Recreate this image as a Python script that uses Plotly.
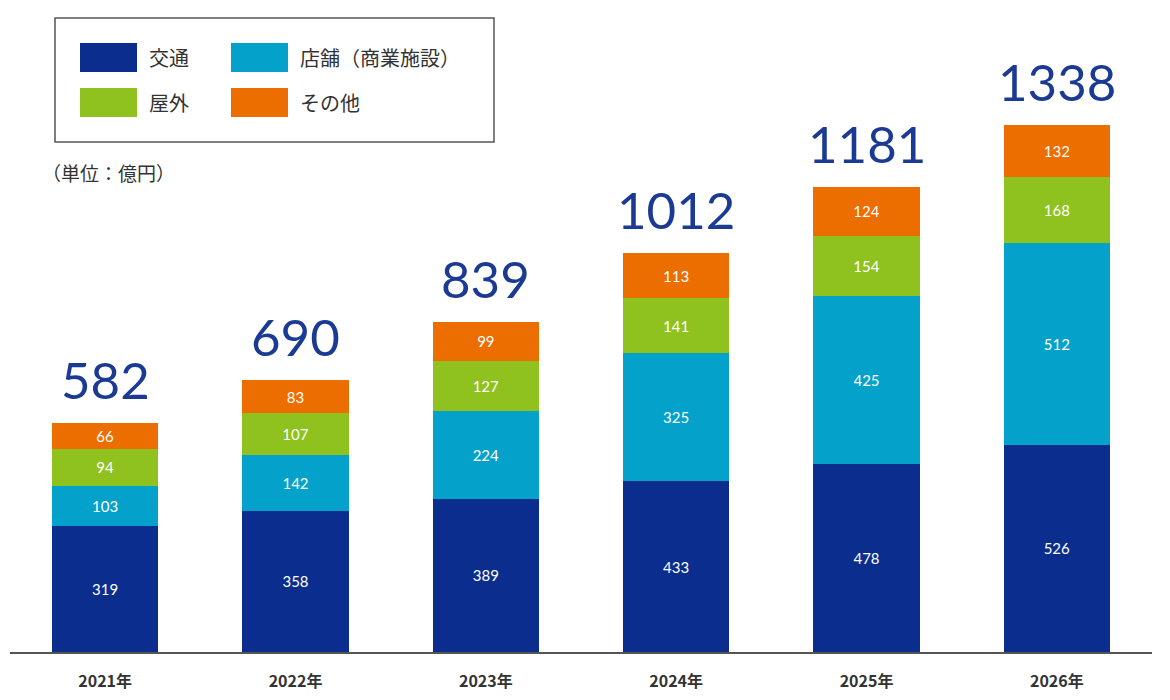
import plotly.graph_objects as go

years = ["2021年", "2022年", "2023年", "2024年", "2025年", "2026年"]
series_names = ["交通", "店舗（商業施設）", "屋外", "その他"]
kotsu = [319, 358, 389, 433, 478, 526]
tenpo = [103, 142, 224, 325, 425, 512]
okugai = [94, 107, 127, 141, 154, 168]
sonota = [66, 83, 99, 113, 124, 132]
totals = [582, 690, 839, 1012, 1181, 1338]
unit_text = "（単位：億円）"

colors = ["#0b2d8e", "#04a2cb", "#8fc21f", "#ec6d00"]
values = [kotsu, tenpo, okugai, sonota]

OFF = 8  # page body margin
W, H = 1170, 700
ML = 10 - OFF
MR = W - (1152 - OFF)
MT = 0
MB = H - (652 - OFF)
PW = W - ML - MR
PH = H - MT - MB

def px(x):
    return (x - OFF - ML) / PW

def py(y):
    return (H - MB - (y - OFF)) / PH

fig = go.Figure()
for name, vals, col in zip(series_names, values, colors):
    fig.add_trace(go.Bar(
        x=years, y=vals, name=name,
        marker=dict(color=col, line=dict(width=0)),
        text=[str(v) for v in vals],
        textposition="inside",
        insidetextanchor="middle",
        textangle=0,
        constraintext="none",
        textfont=dict(color="white", size=15, family="Lato"),
        showlegend=False,
    ))

for yr, tot in zip(years, totals):
    fig.add_annotation(
        x=yr, y=tot, text=str(tot), showarrow=False,
        yanchor="bottom", yshift=11,
        font=dict(size=51, color="#1b3a93", family="Lato"),
    )

# legend box
shapes = [dict(type="rect", xref="paper", yref="paper",
               x0=px(55), x1=px(494), y0=py(18), y1=py(142),
               line=dict(color="#555555", width=1.5), fillcolor="rgba(0,0,0,0)")]
leg_pos = [(80, 43), (231, 43), (80, 88), (231, 88)]
for (lx, ly), name, col in zip(leg_pos, series_names, colors):
    shapes.append(dict(type="rect", xref="paper", yref="paper",
                       x0=px(lx), x1=px(lx + 57), y0=py(ly), y1=py(ly + 29),
                       line=dict(width=0), fillcolor=col))
    fig.add_annotation(xref="paper", yref="paper", x=px(lx + 67), y=py(ly + 15),
                       xanchor="left", yanchor="middle", showarrow=False,
                       text=name, font=dict(size=20, color="#333333",
                                            family="Noto Sans CJK JP"))
fig.add_annotation(xref="paper", yref="paper", x=px(40), y=py(172),
                   xanchor="left", yanchor="middle", showarrow=False,
                   text=unit_text, font=dict(size=19, color="#333333",
                                             family="Noto Sans CJK JP"))

fig.update_layout(
    width=W, height=H,
    margin=dict(l=ML, r=MR, t=MT, b=MB),
    barmode="stack", bargap=0.44,
    plot_bgcolor="white", paper_bgcolor="white",
    shapes=shapes,
    showlegend=False,
    uniformtext=dict(mode=False),
)
fig.update_xaxes(showline=True, linecolor="#555555", linewidth=2,
                 ticks="", ticklabelstandoff=14,
                 tickfont=dict(size=16, color="#333333", family="Noto Sans CJK JP",
                               weight="bold"),
                 showgrid=False, zeroline=False, fixedrange=True)
fig.update_yaxes(range=[0, 1635], visible=False, showgrid=False, zeroline=False)

fig.write_html("out.html")
